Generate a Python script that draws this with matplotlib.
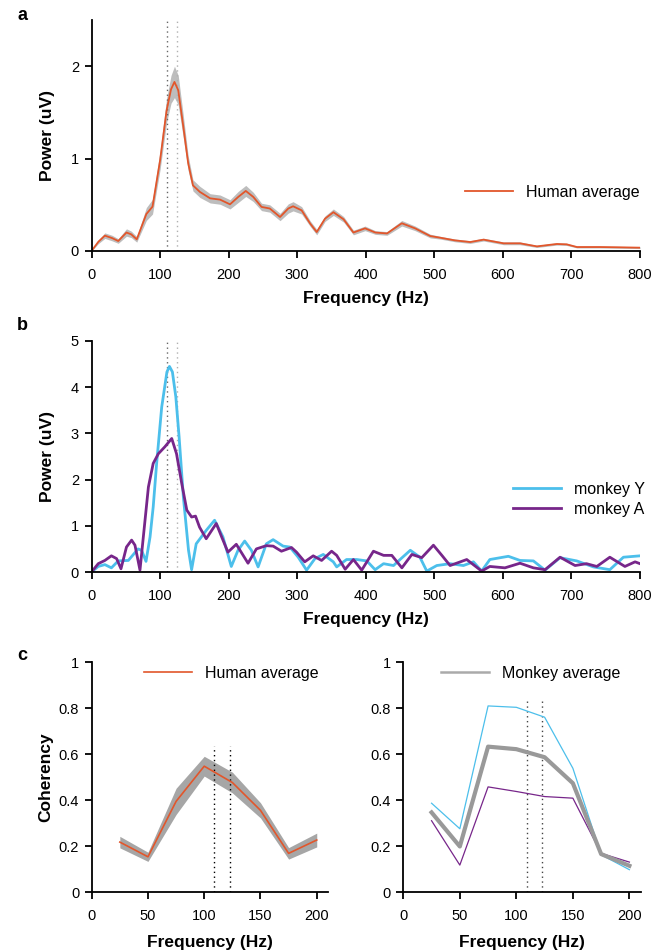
import numpy as np
import matplotlib
matplotlib.use("Agg")
import matplotlib.pyplot as plt

plt.rcParams['font.family'] = ['Liberation Sans', 'DejaVu Sans']
plt.rcParams['font.size'] = 10

# ---- panel a: human average power spectrum ----
human_freq = [0, 10, 19.5, 30, 39, 51, 58, 66, 80, 89,
              100, 109.5, 116, 121, 126.5, 134, 141, 148, 158, 173,
              187.5, 202, 214, 225, 236, 248, 260, 275, 287, 294,
              306.5, 319, 328.5, 340.6, 352.8, 367.7, 382, 399, 414, 431,
              452.6, 472, 494, 508.5, 530, 552.3, 571.8, 601, 625, 649.6,
              678.7, 693, 708, 742, 770, 800]
human_power = [0, 0.1, 0.166, 0.14, 0.108, 0.2, 0.18, 0.126, 0.40, 0.48,
               0.98, 1.52, 1.75, 1.83, 1.74, 1.34, 0.95, 0.71, 0.64, 0.57,
               0.556, 0.505, 0.585, 0.65, 0.585, 0.477, 0.46, 0.368, 0.46, 0.484,
               0.44, 0.296, 0.205, 0.35, 0.42, 0.343, 0.2, 0.245, 0.2, 0.19,
               0.3, 0.245, 0.162, 0.144, 0.115, 0.097, 0.123, 0.083, 0.083, 0.05,
               0.076, 0.072, 0.043, 0.043, 0.04, 0.036]
human_sem = [0, 0.02, 0.03, 0.03, 0.025, 0.04, 0.035, 0.03, 0.07, 0.08,
             0.1, 0.13, 0.15, 0.17, 0.16, 0.12, 0.08, 0.06, 0.06, 0.05,
             0.05, 0.05, 0.06, 0.06, 0.05, 0.04, 0.04, 0.04, 0.05, 0.05,
             0.04, 0.03, 0.03, 0.03, 0.035, 0.03, 0.025, 0.025, 0.02, 0.02,
             0.03, 0.025, 0.02, 0.015, 0.015, 0.015, 0.015, 0.015, 0.015, 0.012,
             0.012, 0.012, 0.01, 0.01, 0.01, 0.01]

# ---- panel b: monkey power spectra ----
monkeyY_freq = [0, 9.8, 19.5, 29, 39, 53.7, 68, 73, 79.5, 85.4,
                90, 95, 102.4, 110, 113.7, 118, 123, 127.8, 134, 141.5,
                146, 152.7, 167.3, 179.5, 191.7, 203.9, 213.7, 223.4, 233.2, 243,
                255, 264.9, 279.5, 289.3, 301.5, 313.7, 325.9, 338, 352.7, 357.6,
                372, 386.8, 401.5, 413.7, 426, 440.5, 450, 465, 479, 489,
                503.6, 523, 542.4, 557, 569, 581, 608, 625, 644.5, 661.5,
                683.4, 707.7, 732, 756, 775.8, 800]
monkeyY_power = [0, 0.12, 0.16, 0.09, 0.24, 0.25, 0.5, 0.47, 0.23, 0.76,
                 1.41, 2.35, 3.57, 4.33, 4.45, 4.33, 3.79, 2.92, 1.62, 0.47,
                 0.05, 0.61, 0.9, 1.12, 0.76, 0.12, 0.47, 0.67, 0.47, 0.11,
                 0.61, 0.7, 0.56, 0.54, 0.32, 0.04, 0.29, 0.38, 0.22, 0.11,
                 0.27, 0.27, 0.24, 0.05, 0.18, 0.14, 0.27, 0.47, 0.32, 0.02,
                 0.14, 0.18, 0.14, 0.22, 0.02, 0.27, 0.34, 0.25, 0.24, 0.04,
                 0.31, 0.24, 0.11, 0.05, 0.32, 0.35]
monkeyA_freq = [0, 9.8, 19.5, 29, 36.6, 43, 51, 58.5, 63.4, 70.7,
                75.6, 83, 90, 97.5, 107, 117, 124, 131.7, 139, 146,
                151.7, 157.6, 167.3, 182, 189, 199, 211.2, 228.3, 240.5, 255,
                265, 277, 291.7, 299, 311, 323.4, 335.6, 350.2, 357.6, 370,
                382, 394.1, 411.2, 426, 438, 452.7, 467.3, 481.7, 498.7, 511,
                523, 547.3, 569, 581, 603, 625, 644.5, 661.5, 683.4, 705.3,
                722, 737, 756, 778, 792.8, 800]
monkeyA_power = [0, 0.18, 0.25, 0.35, 0.29, 0.07, 0.54, 0.69, 0.58, 0.04,
                 0.76, 1.84, 2.35, 2.56, 2.71, 2.89, 2.56, 1.91, 1.34, 1.19,
                 1.21, 0.97, 0.72, 1.05, 0.79, 0.43, 0.6, 0.19, 0.5, 0.57,
                 0.56, 0.45, 0.53, 0.43, 0.22, 0.35, 0.25, 0.45, 0.36, 0.06,
                 0.27, 0.04, 0.45, 0.36, 0.36, 0.09, 0.38, 0.31, 0.58, 0.36,
                 0.14, 0.27, 0.02, 0.12, 0.09, 0.19, 0.09, 0.05, 0.32, 0.14,
                 0.18, 0.12, 0.32, 0.12, 0.22, 0.18]

# ---- panel c: coherency ----
coh_freq = [25, 50, 75, 100, 125, 150, 175, 200]
human_coh = [0.217, 0.153, 0.394, 0.547, 0.476, 0.355, 0.168, 0.226]
human_coh_sem = [0.025, 0.02, 0.057, 0.043, 0.045, 0.033, 0.025, 0.03]
monkeyY_coh = [0.386, 0.275, 0.809, 0.803, 0.76, 0.538, 0.162, 0.097]
monkeyA_coh = [0.31, 0.117, 0.457, 0.437, 0.415, 0.408, 0.168, 0.13]
monkey_avg_coh = [0.346, 0.198, 0.632, 0.621, 0.586, 0.473, 0.165, 0.114]

f0_lines = [110, 124]      # dotted reference frequencies (spectra)
f0_lines_coh = [109, 123]  # dotted reference frequencies (coherency)

ORANGE = '#e2562b'
CYAN = '#4cbfeb'
PURPLE = '#77268a'
BAND = '#bdbdbd'
AVG_GRAY = '#999999'
LEG_SIZE = 11.5


def style_axes(ax):
    for s in ['top', 'right']:
        ax.spines[s].set_visible(False)
    for s in ['left', 'bottom']:
        ax.spines[s].set_linewidth(1.3)
    ax.tick_params(direction='out', length=5, width=1.3, labelsize=10.5)
    ax.tick_params(axis='x', pad=7)
    ax.tick_params(axis='y', pad=4)


fig = plt.figure(figsize=(6.54, 9.51), dpi=100)
W, H = 654.0, 951.0


def axes_px(left, right, top, bottom):
    return fig.add_axes([left / W, 1 - bottom / H, (right - left) / W, (bottom - top) / H])


lab_font = dict(fontsize=12.5, fontweight='bold')

# panel a
ax = axes_px(91.5, 640, 20, 251)
hf = np.array(human_freq)
hp = np.array(human_power)
hs = np.array(human_sem)
ax.fill_between(hf, hp - hs, hp + hs, color=BAND, lw=0)
ax.axvline(f0_lines[0], color='#666666', ls=(0, (1, 2.5)), lw=1)
ax.axvline(f0_lines[1], color='#b0b0b0', ls=(0, (1, 2.5)), lw=1)
ax.plot(hf, hp, color=ORANGE, lw=1.3, label='Human average')
ax.set_xlim(0, 800)
ax.set_ylim(0, 2.5)
ax.set_xticks(range(0, 801, 100))
ax.set_yticks([0, 1, 2])
ax.set_xlabel('Frequency (Hz)', labelpad=7, **lab_font)
ax.set_ylabel('Power (uV)', labelpad=11, **lab_font)
style_axes(ax)
ax.legend(loc='center right', bbox_to_anchor=(1.025, 0.255), frameon=False,
          handlelength=3.0, fontsize=LEG_SIZE)
fig.text(17 / W, 1 - 16 / H, 'a', fontsize=13, fontweight='bold', va='center')

# panel b
ax = axes_px(91.5, 640, 341, 572)
ax.axvline(f0_lines[0], color='#666666', ls=(0, (1, 2.5)), lw=1)
ax.axvline(f0_lines[1], color='#b0b0b0', ls=(0, (1, 2.5)), lw=1)
ax.plot(monkeyY_freq, monkeyY_power, color=CYAN, lw=2, label='monkey Y')
ax.plot(monkeyA_freq, monkeyA_power, color=PURPLE, lw=2, label='monkey A')
ax.set_xlim(0, 800)
ax.set_ylim(0, 5)
ax.set_xticks(range(0, 801, 100))
ax.set_yticks(range(0, 6))
ax.set_xlabel('Frequency (Hz)', labelpad=7, **lab_font)
ax.set_ylabel('Power (uV)', labelpad=11, **lab_font)
style_axes(ax)
ax.legend(loc='center right', bbox_to_anchor=(1.035, 0.315), frameon=False,
          handlelength=3.0, fontsize=LEG_SIZE, labelspacing=0.3)
fig.text(17 / W, 1 - 326 / H, 'b', fontsize=13, fontweight='bold', va='center')

# panel c, left
ax = axes_px(91.7, 328, 662, 892)
cf = np.array(coh_freq)
hc = np.array(human_coh)
hcs = np.array(human_coh_sem)
ax.fill_between(cf, hc - hcs, hc + hcs, color='#a6a6a6', lw=0)
for f in f0_lines_coh:
    ax.plot([f, f], [0, 0.635], color='black', ls=(0, (1, 2.5)), lw=1)
ax.plot(cf, hc, color=ORANGE, lw=1.2, label='Human average')
ax.set_xlim(0, 210)
ax.set_ylim(0, 1)
ax.set_xticks(range(0, 201, 50))
ax.set_yticks([0, 0.2, 0.4, 0.6, 0.8, 1])
ax.set_yticklabels(['0', '0.2', '0.4', '0.6', '0.8', '1'])
ax.set_xlabel('Frequency (Hz)', labelpad=9, **lab_font)
ax.set_ylabel('Coherency', labelpad=4, **lab_font)
style_axes(ax)
ax.legend(loc='center left', bbox_to_anchor=(0.16, 0.95), frameon=False,
          handlelength=3.0, fontsize=LEG_SIZE)
fig.text(17 / W, 1 - 656 / H, 'c', fontsize=13, fontweight='bold', va='center')

# panel c, right
ax = axes_px(403.3, 640.7, 662, 892)
for f in f0_lines_coh:
    ax.plot([f, f], [0, 0.838], color='#444444', ls=(0, (1, 2.5)), lw=1)
ax.plot(cf, monkeyY_coh, color=CYAN, lw=0.9)
ax.plot(cf, monkeyA_coh, color=PURPLE, lw=0.9)
ax.plot(cf, monkey_avg_coh, color=AVG_GRAY, lw=3)
ax.plot([], [], color='#aaaaaa', lw=1.8, label='Monkey average')
ax.set_xlim(0, 210)
ax.set_ylim(0, 1)
ax.set_xticks(range(0, 201, 50))
ax.set_yticks([0, 0.2, 0.4, 0.6, 0.8, 1])
ax.set_yticklabels(['0', '0.2', '0.4', '0.6', '0.8', '1'])
ax.set_xlabel('Frequency (Hz)', labelpad=9, **lab_font)
style_axes(ax)
ax.legend(loc='center left', bbox_to_anchor=(0.1, 0.95), frameon=False,
          handlelength=3.0, fontsize=LEG_SIZE)

fig.savefig('out.png', dpi=100)
